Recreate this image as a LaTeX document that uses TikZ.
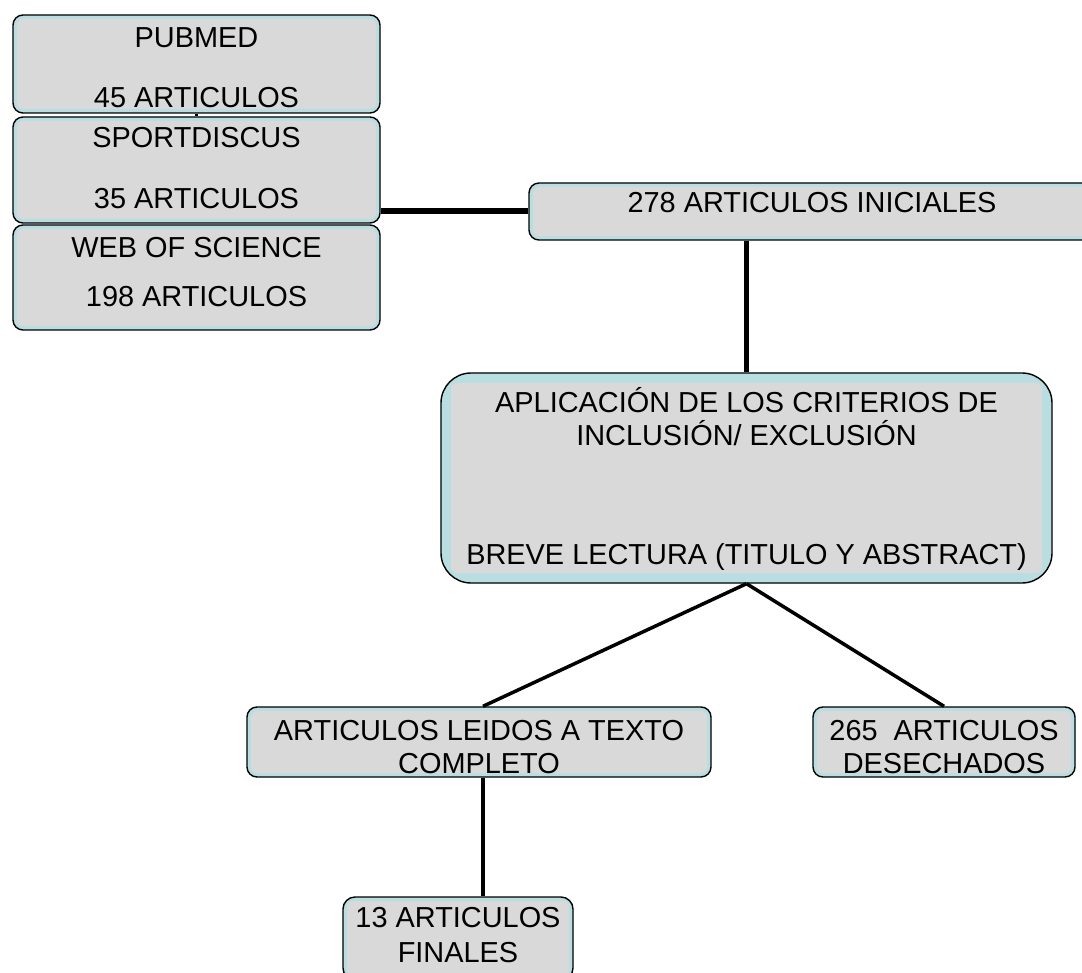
\documentclass[tikz,border=0pt]{standalone}
\usepackage{fontspec}
\setmainfont{Liberation Sans}
\usetikzlibrary{calc, positioning}
\definecolor{boxgray}{RGB}{217,217,217}
\definecolor{bandcyan}{RGB}{185,222,226}
\newcommand{\boxfont}{\fontsize{28.9pt}{33pt}\selectfont}
\tikzset{
  band/.store in=\bandw, band=4pt,
  dbbox/.style={draw=black, line width=1.4pt, fill=bandcyan, rounded corners=10pt,
    inner sep=0pt, align=center, font=\boxfont,
    path picture={\fill[boxgray, rounded corners=6pt]
      ([shift={(\bandw,\bandw)}]path picture bounding box.south west) rectangle
      ([shift={(-\bandw,-\bandw)}]path picture bounding box.north east);}},
  link/.style={draw=black, line width=3.5pt}
}
\begin{document}
\begin{tikzpicture}[x=1pt,y=-1pt]
\clip (0,0) rectangle (1082,973);
\fill[white] (0,0) rectangle (1082,973);
\node[dbbox, minimum width=367pt] (pub) at (196.5,64)
  {\rule{0pt}{33pt}PUBMED\\[27pt]45 ARTICULOS\rule[-5pt]{0pt}{5pt}};
\node[dbbox, minimum width=367pt] (sport) at (196.5,170)
  {\rule{0pt}{31pt}SPORTDISCUS\\[28pt]35 ARTICULOS\rule[-14pt]{0pt}{14pt}};
\node[dbbox, minimum width=367pt] (wos) at (196.5,277.5)
  {\rule{0pt}{33pt}WEB OF SCIENCE\\[16pt]198 ARTICULOS\rule[-23pt]{0pt}{23pt}};
\node[dbbox, minimum width=566pt] (ini) at (812,211.5)
  {\rule[-27pt]{0pt}{57pt}278 ARTICULOS INICIALES};
\node[dbbox, band=10pt, rounded corners=30pt, minimum width=611pt] (aplic) at (746.5,478)
  {\rule{0pt}{39pt}APLICACIÓN DE LOS CRITERIOS DE\\INCLUSIÓN/ EXCLUSIÓN\\[86pt]BREVE LECTURA (TITULO Y ABSTRACT)\rule[-19pt]{0pt}{19pt}};
\node[dbbox, minimum width=464pt] (leidos) at (479,742)
  {\rule{0pt}{33pt}ARTICULOS LEIDOS A TEXTO\\COMPLETO\rule[-4pt]{0pt}{4pt}};
\node[dbbox, minimum width=262pt] (desech) at (944,742)
  {\rule{0pt}{33pt}265\ \ ARTICULOS\\DESECHADOS\rule[-4pt]{0pt}{4pt}};
\node[dbbox, rounded corners=12pt, minimum width=230pt] (final) at (458,938.5)
  {\rule{0pt}{30pt}13 ARTICULOS\\[2pt]FINALES\rule[-18pt]{0pt}{18pt}};
\draw[link, line width=3pt] (pub.south) -- (sport.north);
\draw[link, line width=6pt] (ini.west) -- (ini.west -| sport.east);
\draw[link, line width=5pt] (aplic.north) -- (aplic.north |- ini.south);
\draw[link] (aplic.south) -- ([xshift=4pt]leidos.north);
\draw[link] (aplic.south) -- (desech.north);
\draw[link] ([xshift=4pt]leidos.south) -- ([xshift=4pt]leidos.south |- final.north);
\end{tikzpicture}
\end{document}
